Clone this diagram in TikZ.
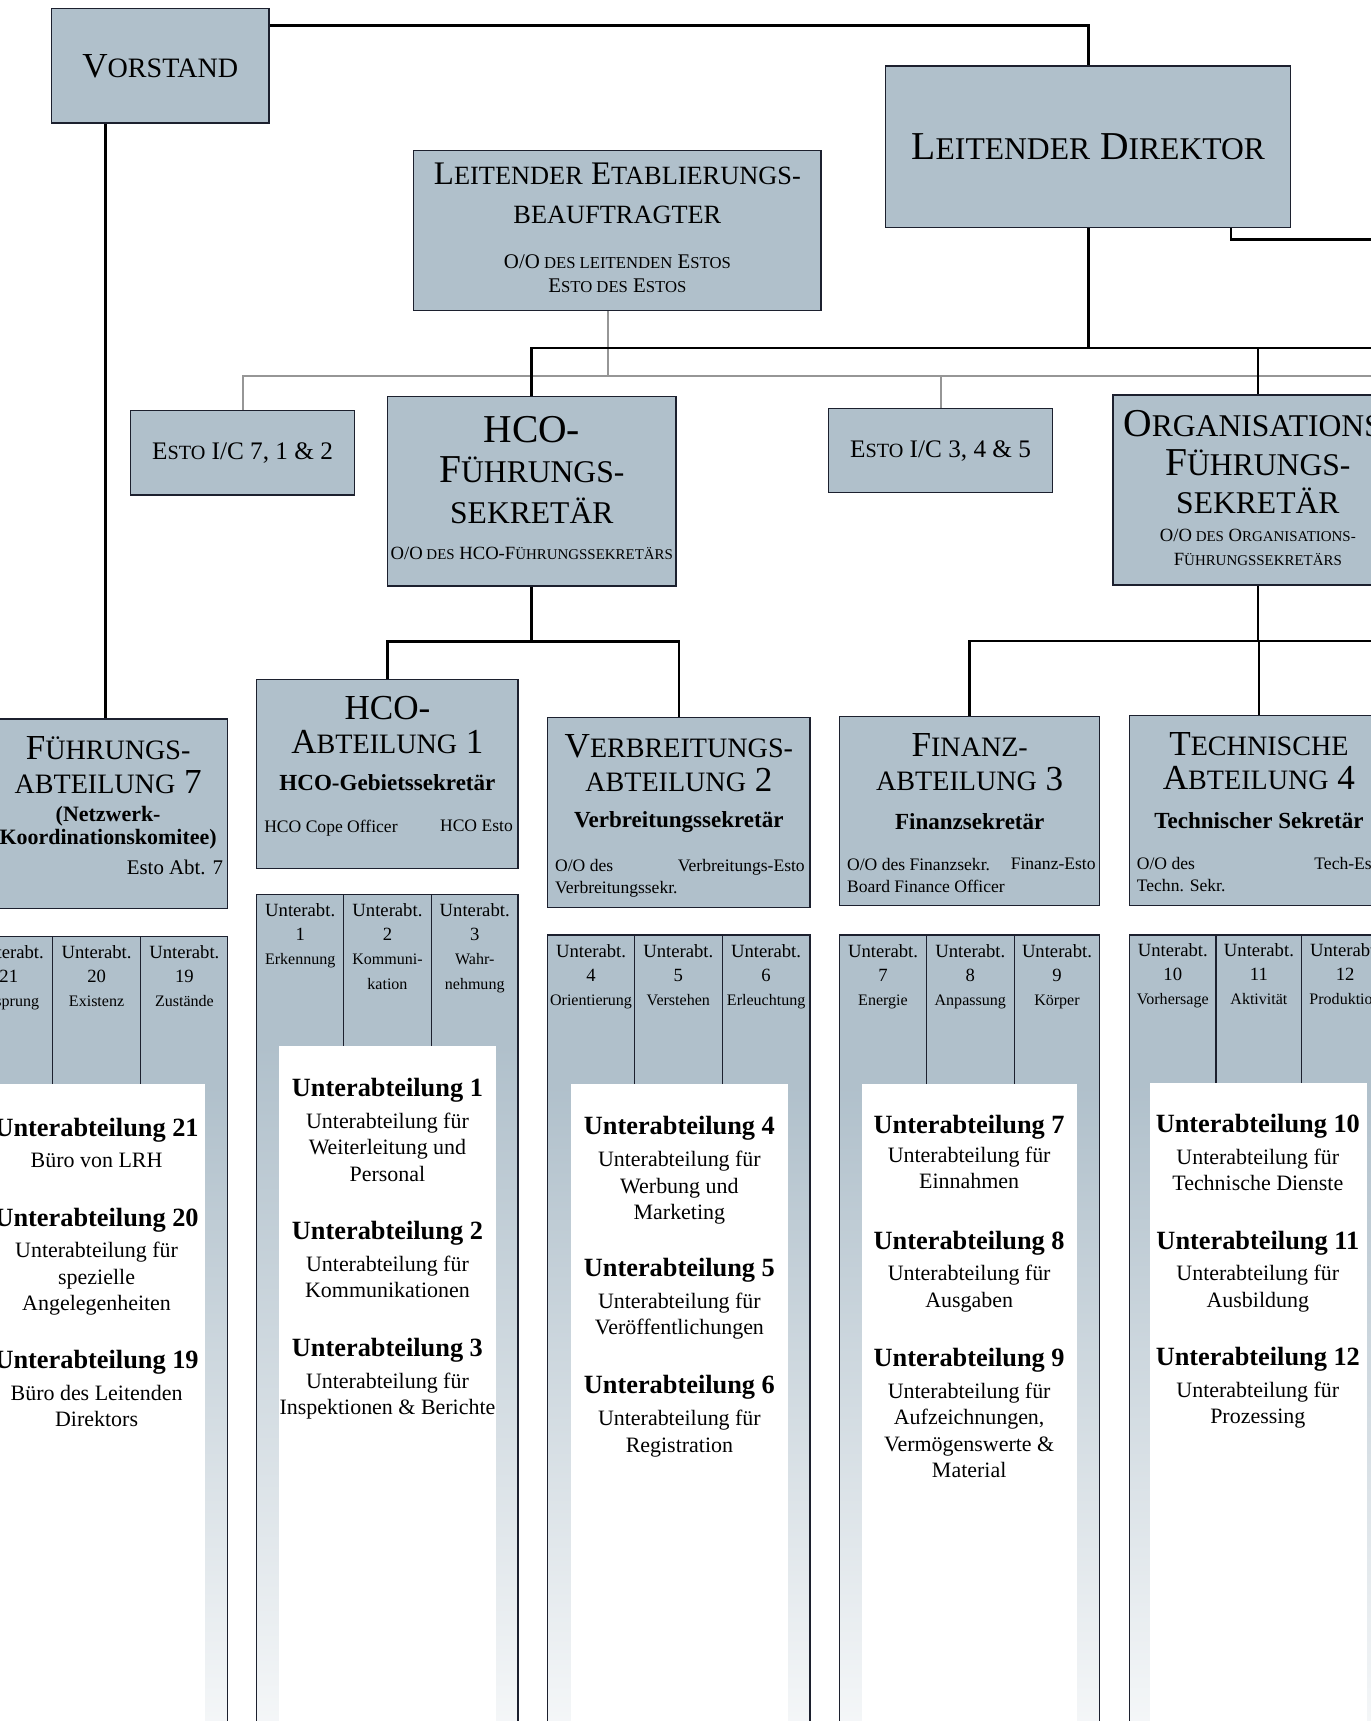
\documentclass[tikz,border=0pt]{standalone}
\usepackage{fontspec}
\setmainfont{Liberation Serif}
\usetikzlibrary{calc}
\usetikzlibrary{positioning}

\definecolor{boxblue}{RGB}{176,192,203}
\definecolor{frameblue}{RGB}{28,32,46}
\definecolor{auxgray}{RGB}{150,150,150}

% small caps by hand: first letters full size, rest smaller
\makeatletter
\newcommand\kap[2]{#1{\fontsize{\fpeval{0.8*\f@size}}{\f@baselineskip}\selectfont #2}}
\makeatother
\newcommand\cellname[1]{{\fontsize{7.3}{11}\selectfont #1}}
\newcommand\uhead[1]{{\bfseries\fontsize{12}{12}\selectfont #1}}

\begin{document}
\begin{tikzpicture}[x=0.5pt, y=-0.5pt]
    \tikzstyle{box}=[draw=frameblue, line width=0.6pt, fill=boxblue, inner sep=0pt]
    \tikzstyle{link}=[line width=1.2pt, black]
    \tikzstyle{aux}=[line width=0.9pt, auxgray]
    \tikzstyle{colline}=[line width=0.6pt, frameblue]
    \tikzstyle{headtext}=[align=center, inner sep=0pt]
    \tikzstyle{depthead}=[headtext, font=\fontsize{16}{15.5}\selectfont]
    \tikzstyle{secname}=[headtext, font=\bfseries\fontsize{10.5}{12}\selectfont]
    \tikzstyle{posttext}=[align=left, inner sep=0pt, font=\fontsize{8}{10}\selectfont]
    \tikzstyle{cell}=[align=center, inner sep=0pt, anchor=north, font=\fontsize{8.5}{11}\selectfont]
    \tikzstyle{subunit}=[align=center, inner sep=0pt, anchor=north, font=\fontsize{10}{12}\selectfont]

    \useasboundingbox (0,0) rectangle (1249,1568);
    \clip (0,0) rectangle (1249,1568);

    % Columns of the sections, drawn first
    % Division 7
    \fill[boxblue] (-32,853) rectangle (207,988);
    \shade[top color=boxblue, middle color=boxblue!70, bottom color=boxblue!12] (-32,988) rectangle (207,1580);
    \fill[white] (-12,988) rectangle (187,1580);
    \draw[colline] (-32,1580) -- (-32,853) -- (207,853) -- (207,1580);
    \draw[colline] (48,853) -- (48,988) (128,853) -- (128,988);
    \node[cell] (s21) at (8,861) {Unterabt.\\21\\\cellname{Ursprung}};
    \node[cell] (s20) at (88,861) {Unterabt.\\20\\\cellname{Existenz}};
    \node[cell] (s19) at (168,861) {Unterabt.\\19\\\cellname{Zustände}};
    \node[subunit] (u21) at (88,1018) {\uhead{Unterabteilung 21}\\[2.5pt]Büro von LRH};
    \node[subunit] (u20) at (88,1100) {\uhead{Unterabteilung 20}\\[2.5pt]Unterabteilung für\\spezielle\\Angelegenheiten};
    \node[subunit] (u19) at (88,1230) {\uhead{Unterabteilung 19}\\[2.5pt]Büro des Leitenden\\Direktors};

    % Division 1
    \fill[boxblue] (234,815) rectangle (472,953);
    \shade[top color=boxblue, middle color=boxblue!70, bottom color=boxblue!12] (234,953) rectangle (472,1580);
    \fill[white] (254,953) rectangle (452,1580);
    \draw[colline] (234,1580) -- (234,815) -- (472,815) -- (472,1580);
    \draw[colline] (313,815) -- (313,953) (393,815) -- (393,953);
    \node[cell] (s1) at (273.5,823) {Unterabt.\\1\\\cellname{Erkennung}};
    \node[cell] (s2) at (353,823) {Unterabt.\\2\\\cellname{Kommuni-}\\\cellname{kation}};
    \node[cell] (s3) at (432.5,823) {Unterabt.\\3\\\cellname{Wahr-}\\\cellname{nehmung}};
    \node[subunit] (u1) at (353,982) {\uhead{Unterabteilung 1}\\[2.5pt]Unterabteilung für\\Weiterleitung und\\Personal};
    \node[subunit] (u2) at (353,1112) {\uhead{Unterabteilung 2}\\[2.5pt]Unterabteilung für\\Kommunikationen};
    \node[subunit] (u3) at (353,1219) {\uhead{Unterabteilung 3}\\[2.5pt]Unterabteilung für\\Inspektionen \& Berichte};

    % Division 2
    \fill[boxblue] (499,852) rectangle (738,988);
    \shade[top color=boxblue, middle color=boxblue!70, bottom color=boxblue!12] (499,988) rectangle (738,1580);
    \fill[white] (520,988) rectangle (718,1580);
    \draw[colline] (499,1580) -- (499,852) -- (738,852) -- (738,1580);
    \draw[colline] (578,852) -- (578,988) (658,852) -- (658,988);
    \node[cell] (s4) at (538.5,860) {Unterabt.\\4\\\cellname{Orientierung}};
    \node[cell] (s5) at (618,860) {Unterabt.\\5\\\cellname{Verstehen}};
    \node[cell] (s6) at (698,860) {Unterabt.\\6\\\cellname{Erleuchtung}};
    \node[subunit] (u4) at (619,1017) {\uhead{Unterabteilung 4}\\[2.5pt]Unterabteilung für\\Werbung und\\Marketing};
    \node[subunit] (u5) at (619,1146) {\uhead{Unterabteilung 5}\\[2.5pt]Unterabteilung für\\Veröffentlichungen};
    \node[subunit] (u6) at (619,1253) {\uhead{Unterabteilung 6}\\[2.5pt]Unterabteilung für\\Registration};

    % Division 3
    \fill[boxblue] (765,852) rectangle (1002,988);
    \shade[top color=boxblue, middle color=boxblue!70, bottom color=boxblue!12] (765,988) rectangle (1002,1580);
    \fill[white] (785,988) rectangle (981,1580);
    \draw[colline] (765,1580) -- (765,852) -- (1002,852) -- (1002,1580);
    \draw[colline] (844,852) -- (844,988) (924,852) -- (924,988);
    \node[cell] (s7) at (804.5,860) {Unterabt.\\7\\\cellname{Energie}};
    \node[cell] (s8) at (884,860) {Unterabt.\\8\\\cellname{Anpassung}};
    \node[cell] (s9) at (963,860) {Unterabt.\\9\\\cellname{Körper}};
    \node[subunit] (u7) at (883,1016) {\uhead{Unterabteilung 7}\\[1pt]Unterabteilung für\\Einnahmen};
    \node[subunit] (u8) at (883,1121) {\uhead{Unterabteilung 8}\\[2.5pt]Unterabteilung für\\Ausgaben};
    \node[subunit] (u9) at (883,1228) {\uhead{Unterabteilung 9}\\[2.5pt]Unterabteilung für\\Aufzeichnungen,\\Vermögenswerte \&\\Material};

    % Division 4
    \fill[boxblue] (1029,852) rectangle (1265,987);
    \shade[top color=boxblue, middle color=boxblue!70, bottom color=boxblue!12] (1029,987) rectangle (1265,1580);
    \fill[white] (1048,987) rectangle (1245,1580);
    \draw[colline] (1029,1580) -- (1029,852) -- (1265,852) -- (1265,1580);
    \draw[colline] (1108,852) -- (1108,987) (1186,852) -- (1186,987);
    \node[cell] (s10) at (1068.5,859) {Unterabt.\\10\\\cellname{Vorhersage}};
    \node[cell] (s11) at (1147,859) {Unterabt.\\11\\\cellname{Aktivität}};
    \node[cell] (s12) at (1225.5,859) {Unterabt.\\12\\\cellname{Produktion}};
    \node[subunit] (u10) at (1146,1015) {\uhead{Unterabteilung 10}\\[2.5pt]Unterabteilung für\\Technische Dienste};
    \node[subunit] (u11) at (1146,1121) {\uhead{Unterabteilung 11}\\[2.5pt]Unterabteilung für\\Ausbildung};
    \node[subunit] (u12) at (1146,1227) {\uhead{Unterabteilung 12}\\[2.5pt]Unterabteilung für\\Prozessing};

    % Board and Executive Director
    \node[box, minimum width=99pt, minimum height=52pt, font=\fontsize{16}{18}\selectfont] (vorstand) at (146,60) {\kap{V}{ORSTAND}};
    \node[box, minimum width=184.5pt, minimum height=73.5pt, font=\fontsize{18}{20}\selectfont] (direktor) at (991.5,133.5) {\kap{L}{EITENDER} \kap{D}{IREKTOR}};

    % Establishment officer
    \node[box, minimum width=185.5pt, minimum height=73pt] (etab) at (562.5,210) {};
    \node[headtext, font=\fontsize{15}{17.5}\selectfont] (etabT) at (562.5,176) {\kap{L}{EITENDER} \kap{E}{TABLIERUNGS-}\\\kap{}{BEAUFTRAGTER}};
    \node[headtext, font=\fontsize{9.5}{11}\selectfont] (etabS) at (562.5,249) {\kap{O/O}{ DES LEITENDEN} \kap{E}{STOS}\\\kap{E}{STO DES} \kap{E}{STOS}};

    % Esto I/C
    \node[box, minimum width=102pt, minimum height=38.5pt, font=\fontsize{11.5}{13}\selectfont] (estoA) at (221,412.5) {\kap{E}{STO} I/C 7, 1 \& 2};
    \node[box, minimum width=102pt, minimum height=38.5pt, font=\fontsize{11.5}{13}\selectfont] (estoB) at (857,410.5) {\kap{E}{STO} I/C 3, 4 \& 5};

    % Executive secretaries
    \node[box, minimum width=131.5pt, minimum height=86.5pt] (hcofs) at (484.5,447.5) {};
    \node[headtext, font=\fontsize{18}{18.5}\selectfont] (hcofsT) at (484.5,428) {HCO-\\\kap{F}{ÜHRUNGS-}\\\kap{}{SEKRETÄR}};
    \node[headtext, font=\fontsize{8.5}{10}\selectfont] (hcofsS) at (484.5,504) {\kap{O/O}{ DES} HCO-\kap{F}{ÜHRUNGSSEKRETÄRS}};

    \node[box, minimum width=132pt, minimum height=86.5pt] (orgfs) at (1146,446.5) {};
    \node[headtext, font=\fontsize{18}{17.5}\selectfont] (orgfsT) at (1146,421) {\kap{O}{RGANISATIONS-}\\\kap{F}{ÜHRUNGS-}\\\kap{}{SEKRETÄR}};
    \node[headtext, font=\fontsize{8.5}{11}\selectfont] (orgfsS) at (1146,499) {\kap{O/O}{ DES} \kap{O}{RGANISATIONS-}\\\kap{F}{ÜHRUNGSSEKRETÄRS}};

    % Divisions
    \node[box, minimum width=108.5pt, minimum height=86.5pt] (abt7) at (98.5,741.5) {};
    \node[depthead] (abt7T) at ($(abt7.north)+(0,43)$) {\kap{F}{ÜHRUNGS-}\\\kap{}{ABTEILUNG} 7};
    \node[headtext, font=\bfseries\fontsize{10}{10.5}\selectfont] (abt7S) at ($(abt7.north)+(0,100)$) {(Netzwerk-\\Koordinationskomitee)};
    \node[posttext, font=\fontsize{9.5}{11}\selectfont, anchor=north east] (abt7R) at ($(abt7.north east)+(-4,129)$) {Esto Abt. 7};

    \node[box, minimum width=119pt, minimum height=86pt] (abt1) at (353,705) {};
    \node[depthead] (abt1T) at ($(abt1.north)+(0,42)$) {HCO-\\\kap{A}{BTEILUNG} 1};
    \node[secname] (abt1S) at ($(abt1.north)+(0,95)$) {HCO-Gebietssekretär};
    \node[posttext, anchor=north west] (abt1L) at ($(abt1.north west)+(7,128)$) {HCO Cope Officer};
    \node[posttext, anchor=north east] (abt1R) at ($(abt1.north east)+(-5,128)$) {HCO Esto};

    \node[box, minimum width=119.5pt, minimum height=86.5pt] (abt2) at (618.5,740.5) {};
    \node[depthead] (abt2T) at ($(abt2.north)+(0,42)$) {\kap{V}{ERBREITUNGS-}\\\kap{}{ABTEILUNG} 2};
    \node[secname] (abt2S) at ($(abt2.north)+(0,96)$) {Verbreitungssekretär};
    \node[posttext, anchor=north west] (abt2L) at ($(abt2.north west)+(7,129)$) {O/O des\\Verbreitungssekr.};
    \node[posttext, anchor=north east] (abt2R) at ($(abt2.north east)+(-5,129)$) {Verbreitungs-Esto};

    \node[box, minimum width=118.5pt, minimum height=86pt] (abt3) at (883.5,739) {};
    \node[depthead] (abt3T) at ($(abt3.north)+(0,42)$) {\kap{F}{INANZ-}\\\kap{}{ABTEILUNG} 3};
    \node[secname] (abt3S) at ($(abt3.north)+(0,96)$) {Finanzsekretär};
    \node[posttext, anchor=north west] (abt3L) at ($(abt3.north west)+(7,129)$) {O/O des Finanzsekr.\\Board Finance Officer};
    \node[posttext, anchor=north east] (abt3R) at ($(abt3.north east)+(-4,129)$) {Finanz-Esto};

    \node[box, minimum width=118pt, minimum height=86.5pt] (abt4) at (1147,738.5) {};
    \node[depthead] (abt4T) at ($(abt4.north)+(0,42)$) {\kap{T}{ECHNISCHE}\\\kap{A}{BTEILUNG} 4};
    \node[secname] (abt4S) at ($(abt4.north)+(0,96)$) {Technischer Sekretär};
    \node[posttext, anchor=north west] (abt4L) at ($(abt4.north west)+(7,129)$) {O/O des\\Techn. Sekr.};
    \node[posttext, anchor=north east] (abt4R) at ($(abt4.north east)+(-3,129)$) {Tech-Esto};

    % Esto lines (grey)
    \coordinate (offaux) at (1260,343);
    \coordinate (etabfoot) at ($(etab.south)+(-9,0)$);
    \draw[aux] (estoA.north) |- (offaux);
    \draw[aux] (etabfoot) -- (etabfoot |- offaux);
    \draw[aux] (estoB.north) -- (estoB.north |- offaux);

    % Command lines
    \draw[link] ($(vorstand.north east)+(0,16)$) -| (direktor.north);
    \coordinate (vfoot) at ($(vorstand.south)+(-50,0)$);
    \draw[link] (vfoot) -- (vfoot |- abt7.north);
    \coordinate (dside) at ($(direktor.south east)+(-55,0)$);
    \coordinate (offtop) at (1260,218);
    \draw[link] (dside) |- (offtop);
    \coordinate (offmain) at (1260,317);
    \draw[link] (direktor.south) -- (direktor.south |- offmain);
    \draw[link] (hcofs.north) |- (offmain);
    \draw[link] (orgfs.north) -- (orgfs.north |- offmain);

    \coordinate (hfork) at ($(hcofs.south)+(0,50)$);
    \draw[link] (hcofs.south) -- (hfork);
    \draw[link] (abt1.north) |- (hfork) -| (abt2.north);
    \coordinate (ofork) at ($(orgfs.south)+(0,51)$);
    \coordinate (offfork) at (1260,584);
    \draw[link] (orgfs.south) -- (ofork);
    \draw[link] (abt3.north) |- (offfork);
    \draw[link] (abt4.north) -- (abt4.north |- offfork);
\end{tikzpicture}
\end{document}
